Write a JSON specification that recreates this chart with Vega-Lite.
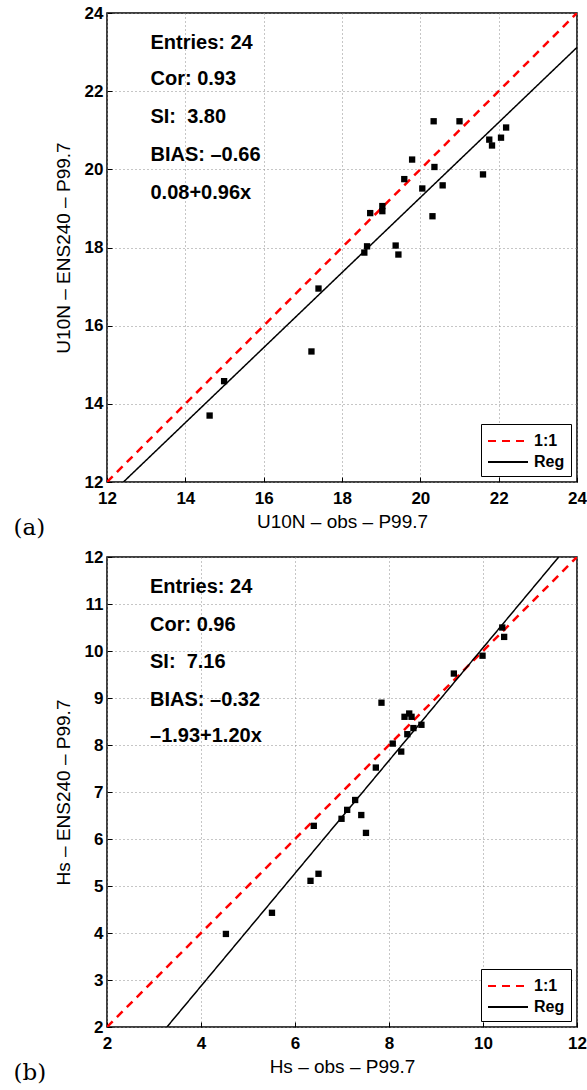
{
  "$schema": "https://vega.github.io/schema/vega-lite/v6.json",
  "background": "white",
  "padding": {"left": 12, "top": 3, "right": 2, "bottom": 0},
  "spacing": 6,
  "datasets": {
    "one_a": [{"x": 12, "y": 12, "series": "1:1"}, {"x": 24, "y": 24, "series": "1:1"}],
    "reg_a": [{"x": 12.42, "y": 12, "series": "Reg"}, {"x": 24, "y": 23.12, "series": "Reg"}],
    "pts_a": [
      {"x": 20.34, "y": 21.23}, {"x": 21.0, "y": 21.23}, {"x": 22.19, "y": 21.07}, {"x": 21.76, "y": 20.76},
      {"x": 22.06, "y": 20.81}, {"x": 21.83, "y": 20.61}, {"x": 19.79, "y": 20.25}, {"x": 20.36, "y": 20.06},
      {"x": 21.6, "y": 19.87}, {"x": 19.59, "y": 19.75}, {"x": 20.05, "y": 19.51}, {"x": 20.57, "y": 19.59},
      {"x": 19.03, "y": 19.06}, {"x": 19.03, "y": 18.93}, {"x": 18.72, "y": 18.88}, {"x": 20.31, "y": 18.8},
      {"x": 18.64, "y": 18.03}, {"x": 19.37, "y": 18.05}, {"x": 18.57, "y": 17.87}, {"x": 19.44, "y": 17.82},
      {"x": 17.4, "y": 16.95}, {"x": 17.22, "y": 15.34}, {"x": 14.99, "y": 14.58}, {"x": 14.62, "y": 13.7}
    ],
    "txt_a": [
      {"x": 13.11, "y": 23.24, "label": "Entries: 24"},
      {"x": 13.11, "y": 22.3, "label": "Cor: 0.93"},
      {"x": 13.11, "y": 21.34, "label": "SI:\u00a0 3.80"},
      {"x": 13.11, "y": 20.37, "label": "BIAS: –0.66"},
      {"x": 13.11, "y": 19.4, "label": "0.08+0.96x"}
    ],
    "one_b": [{"x": 2, "y": 2, "series": "1:1"}, {"x": 12, "y": 12, "series": "1:1"}],
    "reg_b": [{"x": 3.275, "y": 2, "series": "Reg"}, {"x": 11.61, "y": 12, "series": "Reg"}],
    "pts_b": [
      {"x": 10.41, "y": 10.5}, {"x": 10.45, "y": 10.3}, {"x": 9.99, "y": 9.9}, {"x": 9.38, "y": 9.52},
      {"x": 7.84, "y": 8.9}, {"x": 8.33, "y": 8.6}, {"x": 8.43, "y": 8.67}, {"x": 8.48, "y": 8.6},
      {"x": 8.52, "y": 8.36}, {"x": 8.69, "y": 8.43}, {"x": 8.39, "y": 8.23}, {"x": 8.08, "y": 8.03},
      {"x": 8.26, "y": 7.86}, {"x": 7.72, "y": 7.52}, {"x": 7.28, "y": 6.83}, {"x": 7.11, "y": 6.62},
      {"x": 6.99, "y": 6.43}, {"x": 7.41, "y": 6.51}, {"x": 6.4, "y": 6.28}, {"x": 7.51, "y": 6.13},
      {"x": 6.5, "y": 5.26}, {"x": 6.33, "y": 5.11}, {"x": 5.51, "y": 4.43}, {"x": 4.53, "y": 3.98}
    ],
    "txt_b": [
      {"x": 2.915, "y": 11.36, "label": "Entries: 24"},
      {"x": 2.915, "y": 10.56, "label": "Cor: 0.96"},
      {"x": 2.915, "y": 9.77, "label": "SI:\u00a0 7.16"},
      {"x": 2.915, "y": 8.95, "label": "BIAS: –0.32"},
      {"x": 2.915, "y": 8.19, "label": "–1.93+1.20x"}
    ]
  },
  "config": {
    "view": {"stroke": "black", "strokeWidth": 1.5},
    "axis": {
      "labelFont": "Liberation Sans", "labelFontSize": 17, "labelFontWeight": "bold", "labelColor": "black",
      "titleFont": "Liberation Sans", "titleFontSize": 19, "titleFontWeight": "normal", "titleColor": "black",
      "domain": false, "tickColor": "black", "tickSize": -5, "tickWidth": 1, "labelPadding": 9,
      "labelFlush": false, "labelOverlap": false, "labelBound": false,
      "gridColor": "#8c8c8c", "gridDash": [1, 3], "gridWidth": 1, "gridOpacity": 1
    },
    "legend": {
      "orient": "bottom-right", "offset": 6, "strokeColor": "black", "fillColor": "white", "padding": 6,
      "labelFont": "Liberation Sans", "labelFontSize": 16, "labelFontWeight": "bold", "labelColor": "black",
      "symbolSize": 400, "symbolStrokeWidth": 2, "labelOffset": 25, "rowPadding": 2, "cornerRadius": 0
    }
  },
  "resolve": {"scale": {"x": "independent", "y": "independent", "color": "independent", "strokeDash": "independent"}},
  "vconcat": [
    {
      "width": 470, "height": 469,
      "title": {"text": "(a)", "orient": "bottom", "anchor": "start", "frame": "group", "dx": -93.5, "dy": -14, "offset": 0, "font": "DejaVu Serif", "fontSize": 23, "fontWeight": "normal", "color": "black"},
      "encoding": {
        "x": {"field": "x", "type": "quantitative", "scale": {"domain": [12, 24], "nice": false, "zero": false},
              "axis": {"values": [12, 14, 16, 18, 20, 22, 24], "title": "U10N – obs – P99.7", "titlePadding": 6, "labelPadding": 13, "labelFontWeight": "bold"}},
        "y": {"field": "y", "type": "quantitative", "scale": {"domain": [12, 24], "nice": false, "zero": false},
              "axis": {"values": [12, 14, 16, 18, 20, 22, 24], "title": "U10N – ENS240 – P99.7", "titlePadding": 11, "labelFontWeight": "bold"}}
      },
      "layer": [
        {
          "data": {"name": "one_a"},
          "mark": {"type": "line", "clip": true, "strokeWidth": 2.5},
          "encoding": {
            "color": {"field": "series", "type": "nominal", "scale": {"domain": ["1:1", "Reg"], "range": ["#ff0000", "#000000"]}, "legend": {"title": null, "symbolType": "M-1,0H3"}},
            "strokeDash": {"field": "series", "type": "nominal", "scale": {"domain": ["1:1", "Reg"], "range": [[8, 6], [1, 0]]}, "legend": {"title": null, "symbolType": "M-1,0H3"}}
          }
        },
        {
          "data": {"name": "reg_a"},
          "mark": {"type": "line", "clip": true, "strokeWidth": 1.5},
          "encoding": {
            "color": {"field": "series", "type": "nominal", "legend": {"title": null, "symbolType": "M-1,0H3"}},
            "strokeDash": {"field": "series", "type": "nominal", "legend": {"title": null, "symbolType": "M-1,0H3"}}
          }
        },
        {
          "data": {"name": "pts_a"},
          "mark": {"type": "square", "filled": true, "color": "black", "size": 40, "opacity": 1}
        },
        {
          "data": {"name": "txt_a"},
          "mark": {"type": "text", "align": "left", "baseline": "middle", "font": "Liberation Sans", "fontSize": 20, "fontWeight": "bold", "color": "black"},
          "encoding": {"text": {"field": "label", "type": "nominal"}}
        }
      ]
    },
    {
      "width": 470, "height": 470,
      "title": {"text": "(b)", "orient": "bottom", "anchor": "start", "frame": "group", "dx": -93.5, "dy": -14, "offset": 0, "font": "DejaVu Serif", "fontSize": 23, "fontWeight": "normal", "color": "black"},
      "encoding": {
        "x": {"field": "x", "type": "quantitative", "scale": {"domain": [2, 12], "nice": false, "zero": false},
              "axis": {"values": [2, 4, 6, 8, 10, 12], "title": "Hs – obs – P99.7", "titlePadding": 6, "labelPadding": 13, "labelFontWeight": "bold"}},
        "y": {"field": "y", "type": "quantitative", "scale": {"domain": [2, 12], "nice": false, "zero": false},
              "axis": {"values": [2, 3, 4, 5, 6, 7, 8, 9, 10, 11, 12], "title": "Hs – ENS240 – P99.7", "titlePadding": 11, "labelFontWeight": "bold"}}
      },
      "layer": [
        {
          "data": {"name": "one_b"},
          "mark": {"type": "line", "clip": true, "strokeWidth": 2.5},
          "encoding": {
            "color": {"field": "series", "type": "nominal", "scale": {"domain": ["1:1", "Reg"], "range": ["#ff0000", "#000000"]}, "legend": {"title": null, "symbolType": "M-1,0H3"}},
            "strokeDash": {"field": "series", "type": "nominal", "scale": {"domain": ["1:1", "Reg"], "range": [[8, 6], [1, 0]]}, "legend": {"title": null, "symbolType": "M-1,0H3"}}
          }
        },
        {
          "data": {"name": "reg_b"},
          "mark": {"type": "line", "clip": true, "strokeWidth": 1.5},
          "encoding": {
            "color": {"field": "series", "type": "nominal", "legend": {"title": null, "symbolType": "M-1,0H3"}},
            "strokeDash": {"field": "series", "type": "nominal", "legend": {"title": null, "symbolType": "M-1,0H3"}}
          }
        },
        {
          "data": {"name": "pts_b"},
          "mark": {"type": "square", "filled": true, "color": "black", "size": 40, "opacity": 1}
        },
        {
          "data": {"name": "txt_b"},
          "mark": {"type": "text", "align": "left", "baseline": "middle", "font": "Liberation Sans", "fontSize": 20, "fontWeight": "bold", "color": "black"},
          "encoding": {"text": {"field": "label", "type": "nominal"}}
        }
      ]
    }
  ]
}
